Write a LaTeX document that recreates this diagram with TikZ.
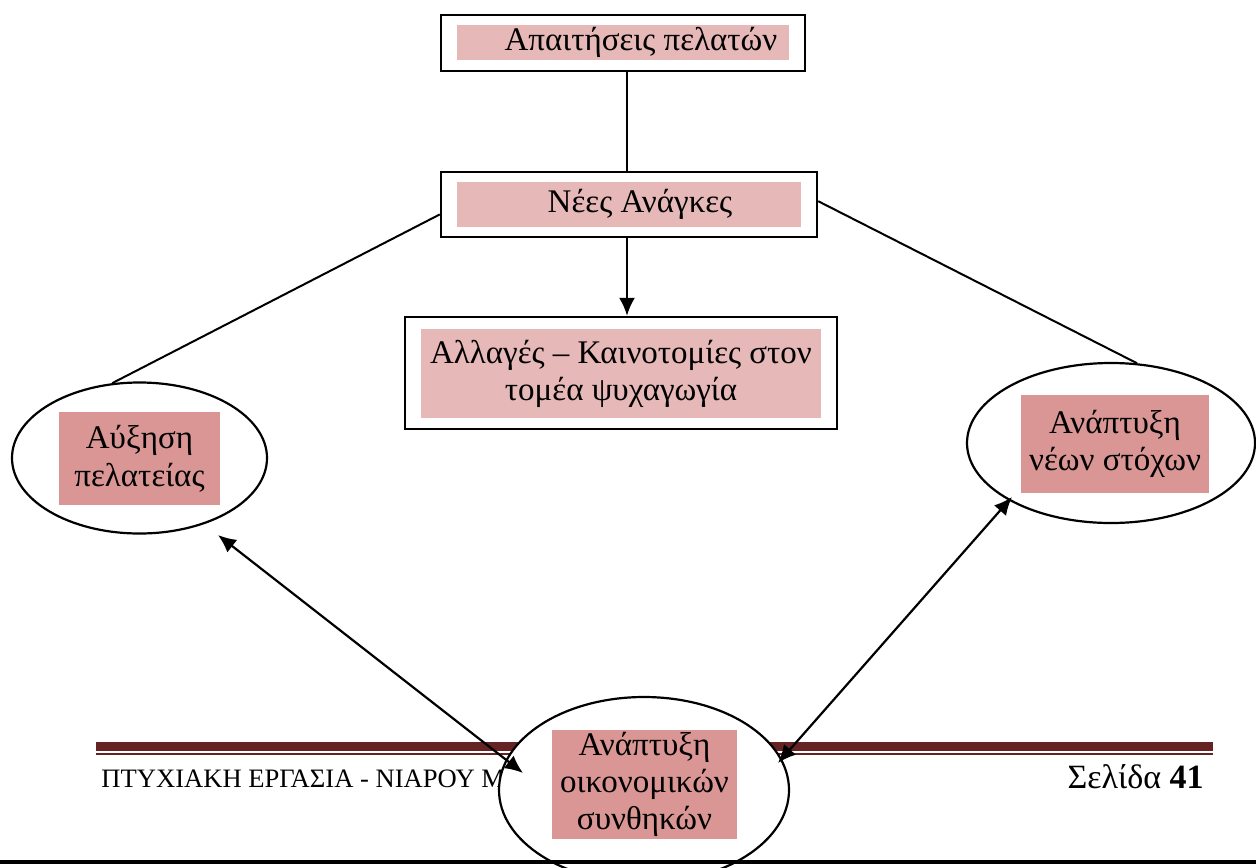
\documentclass[tikz,border=0pt]{standalone}
\usepackage{fontspec}
\setmainfont{Liberation Serif}
\usepackage{xcolor}
\usetikzlibrary{shapes.geometric,calc,arrows.meta}
\definecolor{boxpink}{HTML}{E6B8B7}
\definecolor{ovalpink}{HTML}{D99694}
\definecolor{barred}{HTML}{632423}
\tikzstyle{outerbox} = [rectangle, draw=black, line width=1.2pt, inner sep=0pt, fill=white]
\tikzstyle{fillbox} = [rectangle, fill=boxpink, inner sep=0pt, text centered, align=center]
\tikzstyle{oval} = [ellipse, draw=black, line width=1.1pt, inner sep=0pt, fill=white]
\tikzstyle{ovalfill} = [rectangle, fill=ovalpink, inner sep=0pt, text centered, align=center]
\tikzstyle{link} = [line width=1pt]
\tikzstyle{arrow} = [line width=1.1pt,->,>={Latex[length=9pt,width=8pt]}]
\tikzstyle{dblarrow} = [line width=1.1pt,<->,>={Latex[length=9pt,width=8pt]}]

\begin{document}
\begin{tikzpicture}[x=0.5pt, y=-0.5pt, font=\fontsize{16.5pt}{18.5pt}\selectfont]
    \useasboundingbox (0,0) rectangle (1256,867);
    % footer of the page
    \fill[barred] (96,742) rectangle (1213,751);
    \fill[barred] (96,753) rectangle (1213,755);
    \node (foot)[anchor=base west, inner sep=0pt, font=\fontsize{13.3pt}{16pt}\selectfont] at (101,787) {ΠΤΥΧΙΑΚΗ ΕΡΓΑΣΙΑ - ΝΙΑΡΟΥ Μ};
    \node (page)[anchor=base east, inner sep=0pt, font=\fontsize{17pt}{20pt}\selectfont] at (1204,788) {Σελίδα \textbf{41}};
    % boxes
    \node (req)[outerbox, minimum width=182pt, minimum height=28pt] at (623,43) {};
    \node (reqin)[fillbox, minimum width=166pt, minimum height=17.5pt] at (623,42.5) {\hspace*{18pt}Απαιτήσεις πελατών};
    \node (needs)[outerbox, minimum width=188pt, minimum height=32.5pt] at (629,204.5) {};
    \node (needsin)[fillbox, minimum width=172pt, minimum height=22.5pt] at (629,204.5) {\hspace*{11pt}Νέες Ανάγκες};
    \node (changes)[outerbox, minimum width=216pt, minimum height=56pt] at (621,373) {};
    \node (changesin)[fillbox, minimum width=200pt, minimum height=44.5pt] at (621,373.5) {Αλλαγές – Καινοτομίες στον\\τομέα ψυχαγωγία};
    % ellipses
    \node (grow)[oval, minimum width=127.5pt, minimum height=75.5pt] at (139.5,458) {};
    \node (growin)[ovalfill, minimum width=80.5pt, minimum height=46.5pt, font=\fontsize{16.5pt}{19pt}\selectfont] at (139.5,458.5) {Αύξηση\\πελατείας};
    \node (goals)[oval, minimum width=144pt, minimum height=80pt] at (1111,443) {};
    \node (goalsin)[ovalfill, minimum width=94pt, minimum height=49pt] at (1115,444) {Ανάπτυξη\\νέων στόχων};
    \node (finance)[oval, minimum width=145pt, minimum height=93pt] at (644,790) {};
    \node (financein)[ovalfill, minimum width=92.5pt, minimum height=54.5pt] at (644.5,784.5) {Ανάπτυξη\\οικονομικών\\συνθηκών};
    \draw [line width=2pt] (0,862) -- (1256,862);
    % connectors
    \draw [link] ([xshift=2pt]req.south) -- ([xshift=2pt]req.south |- needs.north);
    \draw [arrow] ([xshift=-1pt]needs.south) -- ([xshift=-1pt]needs.south |- changes.north);
    \draw [link] (needs.183.5) -- (grow.110);
    \draw [link] (needs.1.5) -- (goals.72);
    \draw [dblarrow] ($(grow)+(78.5,77)$) -- ($(finance)+(-121,-17)$);
    \draw [dblarrow] ($(goals)+(-99,54)$) -- ($(finance)+(134,-27)$);
\end{tikzpicture}
\end{document}
